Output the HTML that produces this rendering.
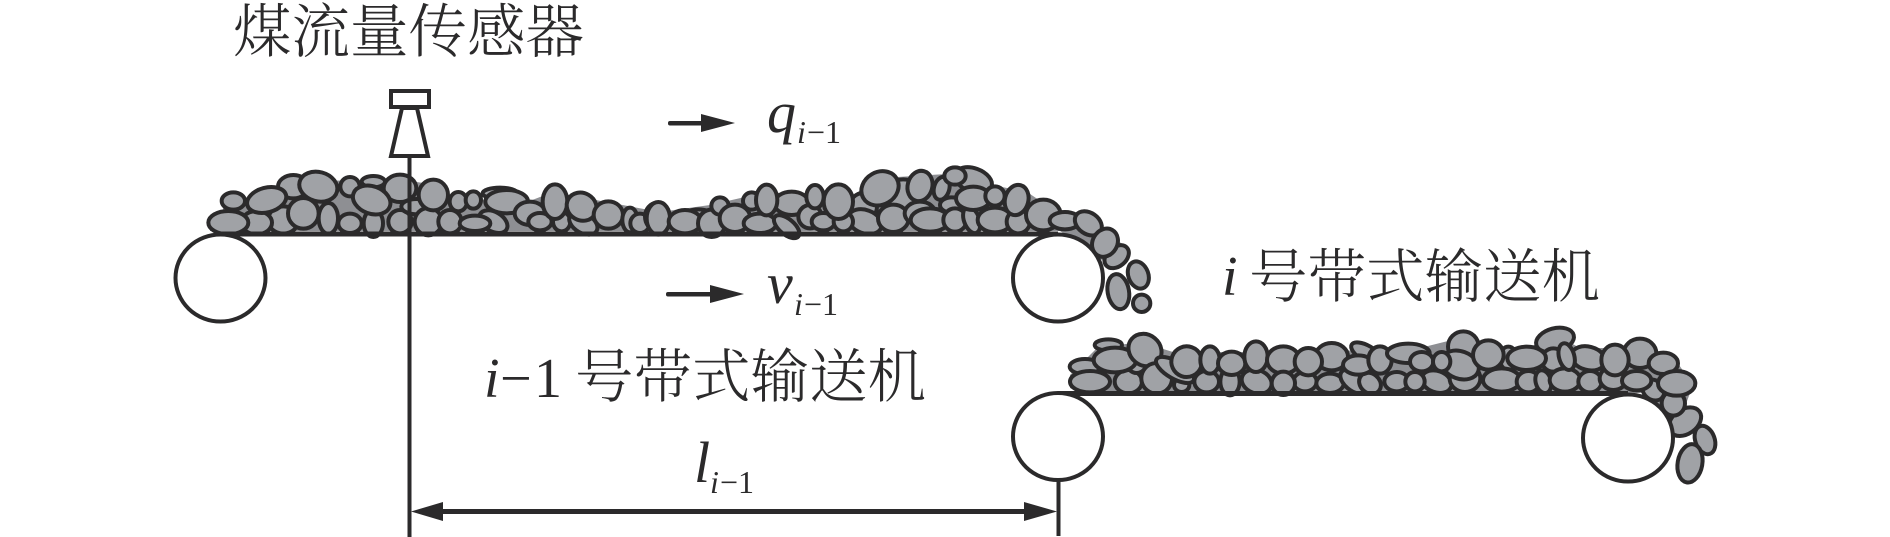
<!DOCTYPE html>
<html lang="zh">
<head>
<meta charset="utf-8">
<title>煤流量传感器</title>
<style>
html,body{margin:0;padding:0;background:#fff;width:1890px;height:537px;overflow:hidden}
svg{display:block}
.cn{font-family:"Liberation Serif","Noto Serif CJK SC",serif;font-size:58.500px;fill:#2b2a2b;font-weight:300}
.it{font-family:"Liberation Serif",serif;font-style:italic;fill:#2b2a2b}
.rm{font-family:"Liberation Serif",serif;fill:#2b2a2b}
.r ellipse{fill:#a0a2a6;stroke:#2b2a2b;stroke-width:12}
</style>
</head>
<body>
<svg width="1890" height="537" viewBox="0 0 1890 537" xmlns="http://www.w3.org/2000/svg">
<rect width="1890" height="537" fill="#fff"/>

<!-- pile silhouettes under the individual rocks -->
<g fill="#8e8f93" transform="translate(0 5)">
<path d="M210 226 L210 220 L223 208 L223 197 L280 187 L310 175 L417 177 L447 182 L450 193 L527 197 L553 187 L660 207 L710 200 L767 187 L810 190 L853 190 L880 173 L963 168 L992 180 L1027 187 L1057 207 L1080 212 L1100 227 L1125 240 L1112 262 L1060 226 Z"/>
<path d="M1078 387 L1070 383 L1070 370 L1097 343 L1140 337 L1173 347 L1267 347 L1347 345 L1380 353 L1460 333 L1513 347 L1560 332 L1580 343 L1653 343 L1677 357 L1693 380 L1683 407 L1690 413 L1683 428 L1663 408 L1647 388 Z"/>
</g>

<!-- coal on belt 1, left part -->
<g class="r" transform="matrix(.33333 0 0 .33333 160 0)">
<ellipse cx="400" cy="560" rx="46" ry="35"/>
<ellipse cx="370" cy="660" rx="46" ry="41"/>
<ellipse cx="640" cy="545" rx="35" ry="17"/>
<ellipse cx="1020" cy="580" rx="52" ry="17"/>
<ellipse cx="290" cy="668" rx="46" ry="35"/>
<ellipse cx="205" cy="668" rx="60" ry="35"/>
<ellipse cx="220" cy="603" rx="35" ry="26"/>
<ellipse cx="320" cy="600" rx="60" ry="37" transform="rotate(-15 320 600)"/>
<ellipse cx="505" cy="655" rx="29" ry="46"/>
<ellipse cx="475" cy="560" rx="58" ry="44" transform="rotate(15 475 560)"/>
<ellipse cx="430" cy="640" rx="46" ry="46"/>
<ellipse cx="570" cy="670" rx="35" ry="29"/>
<ellipse cx="570" cy="560" rx="29" ry="29"/>
<ellipse cx="640" cy="670" rx="29" ry="41"/>
<ellipse cx="720" cy="665" rx="35" ry="35"/>
<ellipse cx="720" cy="565" rx="49" ry="41"/>
<ellipse cx="635" cy="600" rx="58" ry="41" transform="rotate(20 635 600)"/>
<ellipse cx="770" cy="620" rx="46" ry="23"/>
<ellipse cx="805" cy="665" rx="41" ry="41"/>
<ellipse cx="820" cy="585" rx="44" ry="46"/>
<ellipse cx="870" cy="665" rx="35" ry="35"/>
<ellipse cx="895" cy="605" rx="26" ry="29"/>
<ellipse cx="940" cy="600" rx="23" ry="26"/>
<ellipse cx="1000" cy="665" rx="46" ry="29" transform="rotate(30 1000 665)"/>
<ellipse cx="945" cy="670" rx="46" ry="23"/>
<ellipse cx="1040" cy="605" rx="64" ry="35"/>
<ellipse cx="1110" cy="640" rx="46" ry="35"/>
<ellipse cx="1140" cy="665" rx="35" ry="26"/>
<ellipse cx="1205" cy="665" rx="26" ry="29"/>
<ellipse cx="1185" cy="605" rx="37" ry="52"/>
<ellipse cx="1270" cy="670" rx="46" ry="29" transform="rotate(30 1270 670)"/>
<ellipse cx="1265" cy="620" rx="46" ry="41" transform="rotate(30 1265 620)"/>
<ellipse cx="1345" cy="645" rx="44" ry="41"/>
<ellipse cx="1410" cy="660" rx="23" ry="37"/>
<ellipse cx="1440" cy="670" rx="29" ry="29"/>
<ellipse cx="1490" cy="650" rx="35" ry="41"/>
</g>

<!-- coal on belt 1, right part -->
<g class="r" transform="matrix(.33333 0 0 .33333 650 90)">
<ellipse cx="145" cy="375" rx="41" ry="17"/>
<ellipse cx="640" cy="350" rx="41" ry="41"/>
<ellipse cx="760" cy="320" rx="58" ry="52"/>
<ellipse cx="905" cy="345" rx="35" ry="23"/>
<ellipse cx="25" cy="385" rx="35" ry="49"/>
<ellipse cx="105" cy="395" rx="49" ry="35"/>
<ellipse cx="185" cy="400" rx="41" ry="41"/>
<ellipse cx="210" cy="348" rx="26" ry="26"/>
<ellipse cx="255" cy="385" rx="46" ry="41"/>
<ellipse cx="305" cy="333" rx="26" ry="26"/>
<ellipse cx="330" cy="400" rx="49" ry="29"/>
<ellipse cx="425" cy="340" rx="52" ry="35"/>
<ellipse cx="350" cy="330" rx="32" ry="46"/>
<ellipse cx="410" cy="410" rx="46" ry="23" transform="rotate(40 410 410)"/>
<ellipse cx="480" cy="380" rx="35" ry="35"/>
<ellipse cx="495" cy="320" rx="26" ry="35"/>
<ellipse cx="520" cy="395" rx="35" ry="26"/>
<ellipse cx="645" cy="395" rx="52" ry="35" transform="rotate(20 645 395)"/>
<ellipse cx="580" cy="395" rx="29" ry="29"/>
<ellipse cx="565" cy="335" rx="44" ry="52"/>
<ellipse cx="730" cy="385" rx="46" ry="41"/>
<ellipse cx="690" cy="295" rx="58" ry="49" transform="rotate(-30 690 295)"/>
<ellipse cx="810" cy="370" rx="46" ry="35"/>
<ellipse cx="810" cy="288" rx="37" ry="46" transform="rotate(15 810 288)"/>
<ellipse cx="840" cy="390" rx="58" ry="35"/>
<ellipse cx="875" cy="295" rx="23" ry="35" transform="rotate(15 875 295)"/>
<ellipse cx="970" cy="270" rx="58" ry="35" transform="rotate(20 970 270)"/>
<ellipse cx="915" cy="258" rx="32" ry="26"/>
<ellipse cx="915" cy="390" rx="35" ry="35"/>
<ellipse cx="965" cy="390" rx="23" ry="41" transform="rotate(-20 965 390)"/>
<ellipse cx="1035" cy="390" rx="52" ry="37"/>
<ellipse cx="970" cy="325" rx="52" ry="35"/>
<ellipse cx="1035" cy="318" rx="29" ry="29"/>
<ellipse cx="1105" cy="395" rx="35" ry="35"/>
<ellipse cx="1100" cy="330" rx="35" ry="46" transform="rotate(15 1100 330)"/>
<ellipse cx="1180" cy="375" rx="52" ry="46"/>
<ellipse cx="1245" cy="392" rx="46" ry="26"/>
<ellipse cx="1315" cy="400" rx="44" ry="32" transform="rotate(35 1315 400)"/>
<ellipse cx="1400" cy="500" rx="41" ry="29" transform="rotate(-40 1400 500)"/>
<ellipse cx="1365" cy="458" rx="37" ry="44" transform="rotate(30 1365 458)"/>
<ellipse cx="1405" cy="605" rx="32" ry="53" transform="rotate(-10 1405 605)"/>
<ellipse cx="1465" cy="555" rx="30" ry="42" transform="rotate(-20 1465 555)"/>
<ellipse cx="1475" cy="640" rx="26" ry="26"/>
</g>

<!-- coal on belt 2, left part -->
<g class="r" transform="matrix(.33333 0 0 .33333 1000 310)">
<ellipse cx="255" cy="170" rx="46" ry="23"/>
<ellipse cx="325" cy="105" rx="41" ry="17"/>
<ellipse cx="270" cy="215" rx="60" ry="32"/>
<ellipse cx="385" cy="215" rx="41" ry="35"/>
<ellipse cx="410" cy="160" rx="29" ry="29"/>
<ellipse cx="345" cy="150" rx="64" ry="37"/>
<ellipse cx="435" cy="120" rx="52" ry="46" transform="rotate(40 435 120)"/>
<ellipse cx="470" cy="205" rx="46" ry="46" transform="rotate(40 470 205)"/>
<ellipse cx="545" cy="225" rx="23" ry="21"/>
<ellipse cx="525" cy="180" rx="64" ry="26" transform="rotate(30 525 180)"/>
<ellipse cx="620" cy="215" rx="37" ry="32"/>
<ellipse cx="560" cy="155" rx="46" ry="46" transform="rotate(20 560 155)"/>
<ellipse cx="630" cy="150" rx="29" ry="41"/>
<ellipse cx="690" cy="215" rx="29" ry="41"/>
<ellipse cx="695" cy="160" rx="41" ry="35"/>
<ellipse cx="770" cy="215" rx="46" ry="35" transform="rotate(20 770 215)"/>
<ellipse cx="768" cy="140" rx="35" ry="46"/>
<ellipse cx="850" cy="150" rx="49" ry="41"/>
<ellipse cx="915" cy="215" rx="35" ry="29"/>
<ellipse cx="850" cy="220" rx="35" ry="35"/>
<ellipse cx="995" cy="140" rx="49" ry="41"/>
<ellipse cx="925" cy="155" rx="41" ry="41"/>
<ellipse cx="990" cy="220" rx="41" ry="29"/>
<ellipse cx="1100" cy="130" rx="52" ry="23" transform="rotate(30 1100 130)"/>
<ellipse cx="1060" cy="215" rx="46" ry="26" transform="rotate(40 1060 215)"/>
<ellipse cx="1110" cy="220" rx="35" ry="29" transform="rotate(40 1110 220)"/>
<ellipse cx="1075" cy="165" rx="46" ry="29"/>
</g>

<!-- coal on belt 2, right part -->
<g class="r" transform="matrix(.33333 0 0 .33333 1380 310)">
<ellipse cx="0" cy="150" rx="35" ry="41"/>
<ellipse cx="85" cy="130" rx="64" ry="29"/>
<ellipse cx="50" cy="215" rx="37" ry="29"/>
<ellipse cx="170" cy="215" rx="46" ry="32" transform="rotate(20 170 215)"/>
<ellipse cx="105" cy="215" rx="29" ry="29"/>
<ellipse cx="125" cy="155" rx="35" ry="29"/>
<ellipse cx="250" cy="110" rx="46" ry="46"/>
<ellipse cx="255" cy="205" rx="46" ry="41"/>
<ellipse cx="240" cy="165" rx="58" ry="41" transform="rotate(20 240 165)"/>
<ellipse cx="185" cy="155" rx="26" ry="29"/>
<ellipse cx="385" cy="145" rx="26" ry="35"/>
<ellipse cx="325" cy="135" rx="46" ry="44"/>
<ellipse cx="365" cy="210" rx="56" ry="35"/>
<ellipse cx="525" cy="90" rx="58" ry="35" transform="rotate(-15 525 90)"/>
<ellipse cx="445" cy="215" rx="35" ry="32"/>
<ellipse cx="490" cy="215" rx="23" ry="35" transform="rotate(-15 490 215)"/>
<ellipse cx="520" cy="150" rx="35" ry="35"/>
<ellipse cx="440" cy="145" rx="58" ry="35"/>
<ellipse cx="555" cy="210" rx="46" ry="35"/>
<ellipse cx="625" cy="145" rx="52" ry="35" transform="rotate(15 625 145)"/>
<ellipse cx="560" cy="140" rx="23" ry="41" transform="rotate(-15 560 140)"/>
<ellipse cx="630" cy="215" rx="35" ry="32"/>
<ellipse cx="700" cy="205" rx="41" ry="35"/>
<ellipse cx="780" cy="130" rx="49" ry="44"/>
<ellipse cx="705" cy="150" rx="41" ry="46"/>
<ellipse cx="850" cy="160" rx="44" ry="32"/>
<ellipse cx="820" cy="240" rx="35" ry="29" transform="rotate(40 820 240)"/>
<ellipse cx="770" cy="212" rx="44" ry="29"/>
<ellipse cx="915" cy="335" rx="53" ry="37" transform="rotate(-35 915 335)"/>
<ellipse cx="880" cy="280" rx="35" ry="37"/>
<ellipse cx="890" cy="220" rx="56" ry="37"/>
<ellipse cx="975" cy="390" rx="29" ry="44" transform="rotate(-20 975 390)"/>
<ellipse cx="930" cy="460" rx="37" ry="58" transform="rotate(10 930 460)"/>
</g>

<!-- belts -->
<rect x="220" y="231.500" width="838" height="5" fill="#2b2a2b"/>
<rect x="1058" y="391" width="570" height="5" fill="#2b2a2b"/>

<!-- rollers -->
<g fill="#fff" stroke="#2b2a2b" stroke-width="4">
<ellipse cx="220.500" cy="278" rx="45" ry="43.500"/>
<ellipse cx="1058" cy="278" rx="45" ry="43.500"/>
<ellipse cx="1058" cy="436.500" rx="45" ry="43.500"/>
<ellipse cx="1628" cy="438" rx="45" ry="43.500"/>
</g>

<!-- sensor and dimension lines -->
<g stroke="#2b2a2b" fill="none" stroke-width="4">
<line x1="409.500" y1="157" x2="409.500" y2="537"/>
<line x1="1058.500" y1="481" x2="1058.500" y2="536"/>
<rect x="391" y="91" width="38" height="16" fill="#fff"/>
<path d="M402 108 L417 108 L428 156 L391 156 Z" fill="#fff"/>
</g>

<!-- arrows -->
<g fill="#2b2a2b" stroke="none">
<rect x="668" y="121" width="36" height="4.500" rx="2"/>
<path d="M701 114 L735 123 L701 132Z"/>
<rect x="666" y="292" width="46" height="4.500" rx="2"/>
<path d="M710 285 L744 294 L710 303Z"/>
<rect x="440" y="509" width="586" height="5"/>
<path d="M411 511.500 L443 502 L443 521Z"/>
<path d="M1057 511.500 L1024 502 L1024 521Z"/>
</g>

<!-- labels -->
<text class="cn" x="233" y="52">煤流量传感器</text>
<text class="cn" x="575" y="397">号带式输送机</text>
<text class="cn" x="1249" y="297">号带式输送机</text>

<text class="it" x="1222" y="295" font-size="56">i</text>
<text class="it" x="484" y="397" font-size="56">i</text>
<text class="rm" x="500 534" y="397" font-size="56">−1</text>

<text class="it" x="767" y="132" font-size="58">q</text>
<text class="it" x="797" y="143" font-size="32">i</text>
<text class="rm" x="807 825" y="143" font-size="32">−1</text>

<text class="it" x="767" y="303" font-size="58">v</text>
<text class="it" x="794" y="315" font-size="32">i</text>
<text class="rm" x="804 822" y="315" font-size="32">−1</text>

<text class="it" x="694" y="482" font-size="58">l</text>
<text class="it" x="710" y="493" font-size="32">i</text>
<text class="rm" x="720 738" y="493" font-size="32">−1</text>
</svg>
</body>
</html>
